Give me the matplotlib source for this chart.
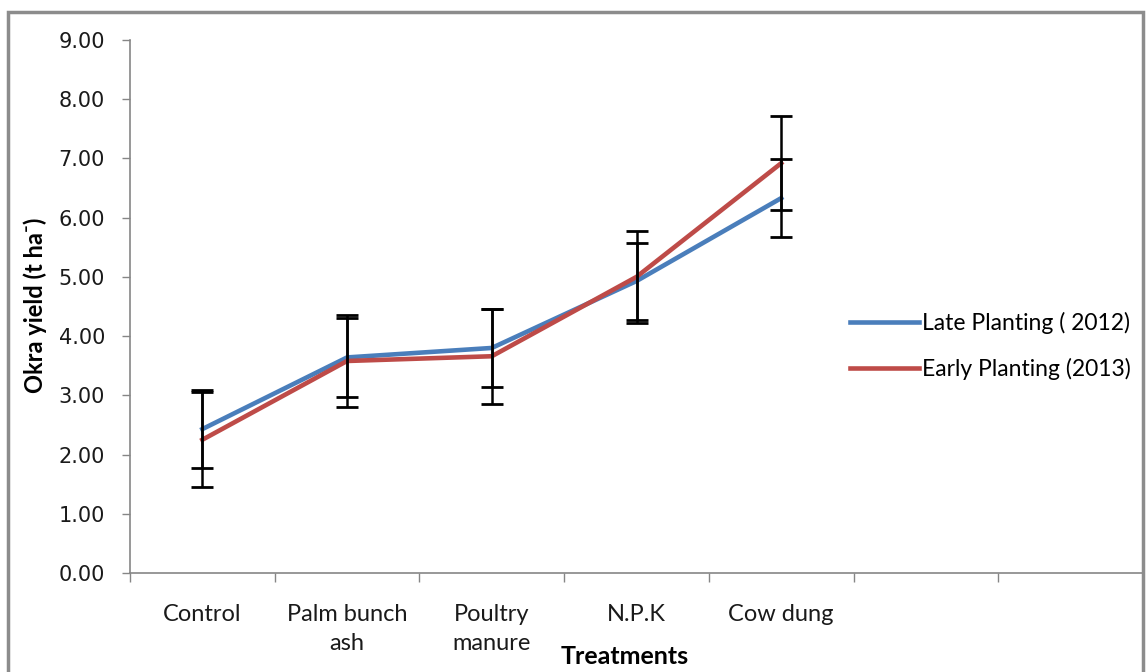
import matplotlib.pyplot as plt
from matplotlib.patches import Rectangle
import numpy as np

# data
treatments = ["Control", "Palm bunch\nash", "Poultry\nmanure", "N.P.K", "Cow dung"]
n_slots = 7  # Excel axis keeps two empty categories on the right

late_2012 = [2.43, 3.64, 3.80, 4.93, 6.33]
late_2012_err = [0.66, 0.67, 0.66, 0.65, 0.66]
early_2013 = [2.25, 3.58, 3.66, 5.00, 6.92]
early_2013_err = [0.80, 0.78, 0.80, 0.78, 0.79]

blue = "#4A7EBB"
red = "#BE4B48"
axis_gray = "#868686"

plt.rcParams['font.family'] = ['Lato', 'DejaVu Sans']

fig = plt.figure(figsize=(11.48, 6.72), dpi=100)
ax = fig.add_axes([130 / 1148, 1 - 573 / 672, (1143 - 130) / 1148, (573 - 40) / 672])

x = np.arange(len(treatments))
ax.plot(x, late_2012, color=blue, lw=3.3, label="Late Planting ( 2012)", zorder=2)
ax.plot(x, early_2013, color=red, lw=3.3, label="Early Planting (2013)", zorder=2)
ax.errorbar(x, late_2012, yerr=late_2012_err, fmt="none", ecolor="black",
            elinewidth=1.8, capsize=8, capthick=2, zorder=3)
ax.errorbar(x, early_2013, yerr=early_2013_err, fmt="none", ecolor="black",
            elinewidth=1.8, capsize=8, capthick=2, zorder=3)

ax.set_xlim(-0.5, n_slots - 0.5)
ax.set_ylim(0, 9)
yt = np.arange(0, 9.01, 1)
ax.set_yticks(yt)
ax.set_yticklabels([f"{v:.2f}" for v in yt], family="DejaVu Sans", fontsize=15,
                   color="#1a1a1a")

# category boundaries get the tick marks, labels sit in the middle
ax.set_xticks(np.arange(-0.5, n_slots, 1))
ax.set_xticklabels([])
ax.set_xticks(x, minor=True)
ax.set_xticklabels(treatments, minor=True, fontsize=17, linespacing=1.5,
                   color="#1a1a1a")
ax.tick_params(axis="x", which="minor", length=0, pad=22)
ax.tick_params(axis="x", which="major", length=6.5, color=axis_gray, width=1)
ax.tick_params(axis="y", length=6, color=axis_gray, width=1, pad=12)

for side in ["top", "right"]:
    ax.spines[side].set_visible(False)
for side in ["left", "bottom"]:
    ax.spines[side].set_color(axis_gray)
    ax.spines[side].set_linewidth(1.2)

fig.text(35 / 1148, 1 - 305 / 672, "Okra yield (t ha\u207b)", fontsize=17,
         fontweight="bold", rotation=90, ha="center", va="center")
fig.text(625 / 1148, 1 - 657 / 672, "Treatments", fontsize=18, fontweight="bold",
         ha="center", va="center")

ax.legend(loc="center left", bbox_to_anchor=(850 / 1148, 1 - 346 / 672),
          bbox_transform=fig.transFigure, frameon=False, fontsize=16.5,
          handlelength=3.0, handletextpad=0.15, labelspacing=1.05,
          borderpad=0, borderaxespad=0)

# outer chart border like Excel
fig.add_artist(Rectangle((8 / 1148, -0.02), (1143 - 8) / 1148, 1.02 - 12 / 672,
                         transform=fig.transFigure, fill=False,
                         edgecolor="#8c8c8c", lw=2.5, clip_on=False))

fig.savefig("out.png", dpi=100)
